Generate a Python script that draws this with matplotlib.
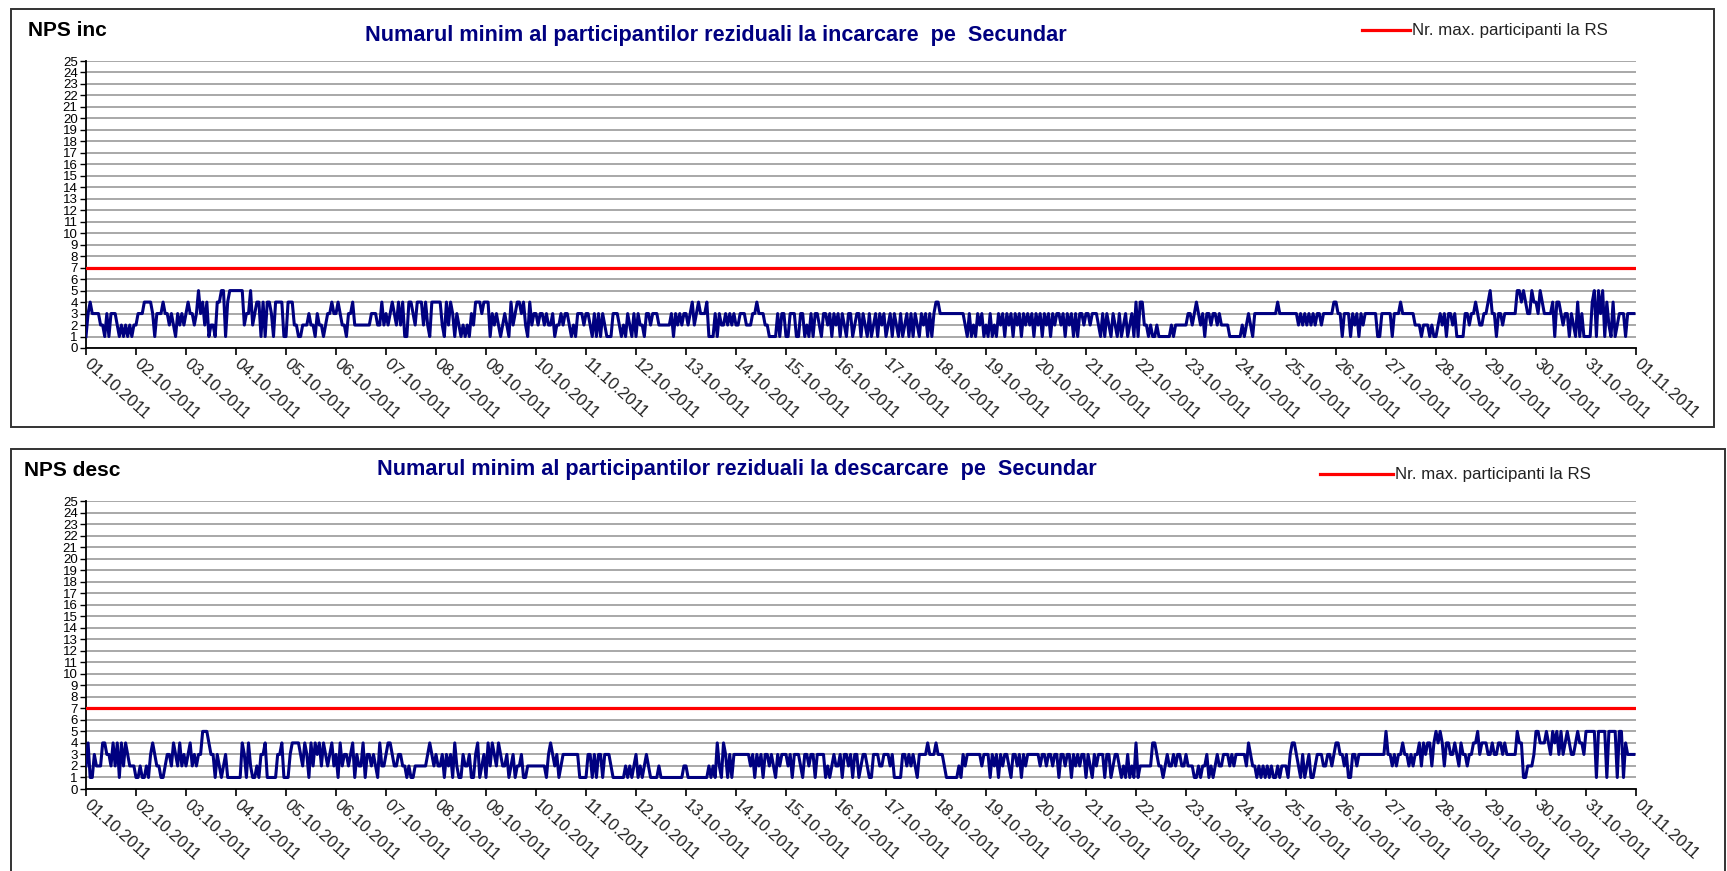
import numpy as np
import matplotlib
matplotlib.use('Agg')
import matplotlib.pyplot as plt
from matplotlib.patches import Rectangle
from matplotlib.lines import Line2D

plt.rcParams['font.family'] = ['Liberation Sans', 'DejaVu Sans']

# etichete axa X (zilele lunii)
dates = ['%02d.10.2011' % d for d in range(1, 32)] + ['01.11.2011']

RS_MAX = 7  # Nr. max. participanti la RS

# valori orare, o zi = 24 ore
inc_days = [
    "134333 322131 333212 121212",
    "233344 443133 343323 213232",
    "343323 534241 221445 514555",
    "555523 352344 141443 144441",
    "144422 112223 221322 123343",
    "343221 334222 222223 332242",
    "323432 424114 432444 242144",
    "444214 243132 121213 244434",
    "441323 212321 423443 421423",
    "323323 223122 323321 213332",
    "332131 313211 133321 213213",
    "132213 323332 222223 132323",
    "323423 433341 113132 232323",
    "223332 223343 332211 113133",
    "113331 133121 313321 332313",
    "231321 331233 132131 231323",
    "123132 131231 313213 231313",
    "443333 333333 332131 213231",
    "213121 323132 313231 323231",
    "323132 313233 231323 131332",
    "332333 213132 132131 231231",
    "414422 121121 111112 122222",
    "233234 323133 233232 222111",
    "111212 321333 333333 334333",
    "333333 232323 232332 333334",
    "433133 313231 323333 331133",
    "333133 343333 332221 222121",
    "123231 332311 113323 343223",
    "345331 332333 333554 543354",
    "435433 334144 323313 214131",
    "111451 535142 141233 313333",
]

desc_days = [
    "241132 224433 242414 243222",
    "112112 134322 112332 432423",
    "234232 335554 331321 231111",
    "111431 421121 334111 113341",
    "113444 432431 424342 432342",
    "314233 234132 241332 321422",
    "344322 332212 112222 223432",
    "322313 231421 132231 134123",
    "142432 432231 231223 112222",
    "222221 343231 233333 333111",
    "133131 331333 211111 121212",
    "312123 211112 111111 111112",
    "211111 111112 121421 431313",
    "333333 323132 313323 213233",
    "323133 321332 331333 312123",
    "223133 231331 233211 333223",
    "332311 113323 232133 334333",
    "433321 111112 132333 333323",
    "331323 132332 133231 323333",
    "332332 332331 332331 323233",
    "132132 333133 123321 213121",
    "412222 224432 212322 323322",
    "322211 212231 212322 333232",
    "333332 432212 121212 112122",
    "213443 213123 112333 223323",
    "443323 113323 333333 333333",
    "533232 334332 323342 434424",
    "545424 433432 433233 445344",
    "433433 443433 333544 112223",
    "554445 435453 534543 345443",
    "555551 555515 555155 143333",
]


def hourly(days):
    return [int(c) for d in days for c in d.replace(' ', '')]


inc = hourly(inc_days)
desc = hourly(desc_days)

W, H = 1727, 871
fig = plt.figure(figsize=(W / 100, H / 100), dpi=100)


def fx(px):
    return px / W


def fy(py):
    return 1 - py / H


def panel(y_top, y_bot, series, label, title, title_x, title_y, leg_x0, leg_x1, leg_y):
    ax = fig.add_axes([fx(86), fy(y_bot), fx(1636) - fx(86), fy(y_top) - fy(y_bot)])
    x = np.arange(len(series)) / 24.0
    ax.plot(x, series, color='#000080', lw=2.2, zorder=3)
    ax.plot(x, [RS_MAX] * len(series), color='#ff0000', lw=2.3, zorder=3)
    ax.set_xlim(0, 31)
    ax.set_ylim(0, 25)
    ax.set_yticks(range(26))
    ax.set_yticklabels([str(v) for v in range(26)], fontsize=9.5)
    ax.set_xticks(range(32))
    ax.set_xticklabels(dates, rotation=-42, ha='left', va='center',
                       rotation_mode='anchor', fontsize=12, color='#222222')
    ax.tick_params(axis='x', direction='out', length=5, width=1.2, pad=5)
    ax.tick_params(axis='y', direction='out', length=4, width=1.0, pad=2)
    ax.yaxis.grid(True, color='#a8a8a8', lw=1.4)
    ax.set_axisbelow(True)
    for s in ['top', 'right']:
        ax.spines[s].set_visible(False)
    for s in ['left', 'bottom']:
        ax.spines[s].set_linewidth(1.3)
    ax.set_facecolor('none')

    fig.text(fx(label[1]), fy(label[2]), label[0], fontsize=15, fontweight='bold',
             va='center', ha='left')
    fig.text(fx(title_x), fy(title_y), title, fontsize=15.6, fontweight='bold',
             color='#000080', va='center', ha='center')
    fig.add_artist(Line2D([fx(leg_x0), fx(leg_x1)], [fy(leg_y), fy(leg_y)],
                          color='#ff0000', lw=2.3))
    fig.text(fx(leg_x1 + 2), fy(leg_y), 'Nr. max. participanti la RS', fontsize=12.2,
             color='#222222', va='center', ha='left')
    return ax


panel(61, 348, inc, ('NPS inc', 28, 31),
      'Numarul minim al participantilor reziduali la incarcare  pe  Secundar',
      716, 35, 1362, 1410, 30)
panel(501, 789, desc, ('NPS desc', 24, 470),
      'Numarul minim al participantilor reziduali la descarcare  pe  Secundar',
      737, 470, 1320, 1393, 474)

# chenarele celor doua grafice
fig.add_artist(Rectangle((fx(11), fy(427)), fx(1714) - fx(11), fy(9) - fy(427),
                         fill=False, ec='#333333', lw=1.4, transform=fig.transFigure))
fig.add_artist(Rectangle((fx(11), -0.02), fx(1725) - fx(11), fy(449) + 0.02,
                         fill=False, ec='#333333', lw=1.4, transform=fig.transFigure))

fig.savefig('out.png', dpi=100)
